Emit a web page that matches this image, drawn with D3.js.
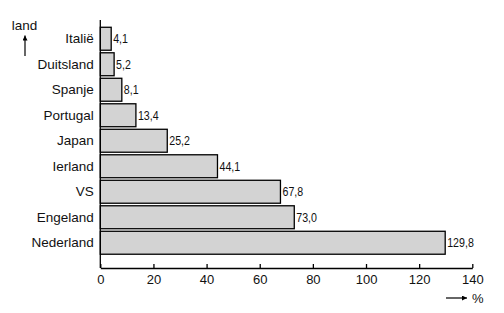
<!DOCTYPE html>
<html>
<head>
<meta charset="utf-8">
<script src="https://cdn.jsdelivr.net/npm/d3@7"></script>
<style>
  html, body { margin: 0; padding: 0; background: #fff; }
  svg { display: block; }
  text { font-family: Arial, "Liberation Sans", sans-serif; fill: #111; }
</style>
</head>
<body>
<svg id="chart" width="504" height="313"></svg>
<script>
const categories = ["Italië", "Duitsland", "Spanje", "Portugal", "Japan", "Ierland", "VS", "Engeland", "Nederland"];
const values = [4.1, 5.2, 8.1, 13.4, 25.2, 44.1, 67.8, 73.0, 129.8];
const valueLabels = ["4,1", "5,2", "8,1", "13,4", "25,2", "44,1", "67,8", "73,0", "129,8"];
const xTicks = [0, 20, 40, 60, 80, 100, 120, 140];
const yAxisTitle = "land";
const xAxisTitle = "%";

const svg = d3.select("#chart");
const x = d3.scaleLinear().domain([0, 140]).range([100.3, 472.3]);
const y = d3.scaleBand().domain(categories).range([26, 255.5]).paddingInner(0.1).paddingOuter(0.05);
const axisY = 268;

// bars
svg.append("g").selectAll("rect")
  .data(categories)
  .join("rect")
  .attr("x", x(0))
  .attr("y", d => y(d))
  .attr("width", (d, i) => x(values[i]) - x(0))
  .attr("height", y.bandwidth())
  .attr("fill", "#d3d3d3")
  .attr("stroke", "#000")
  .attr("stroke-width", 1.3);

// value labels (condensed look)
svg.append("g").selectAll("text")
  .data(categories)
  .join("text")
  .attr("transform", (d, i) => `translate(${x(values[i]) + 2},${y(d) + y.bandwidth() / 2}) scale(0.82,1)`)
  .attr("dy", "0.36em")
  .style("font-family", "Arial, 'Liberation Sans', sans-serif")
  .style("font-size", "13px")
  .text((d, i) => valueLabels[i]);

// category axis (labels only)
const gy = svg.append("g")
  .attr("transform", `translate(${x(0)},0)`)
  .call(d3.axisLeft(y).tickSize(0).tickPadding(6.5));
gy.select(".domain").remove();
gy.selectAll("text").style("font-size", "13.5px").style("font-family", "Arial, 'Liberation Sans', sans-serif").attr("fill", "#111");

// vertical axis line
svg.append("line")
  .attr("x1", x(0)).attr("x2", x(0))
  .attr("y1", 20).attr("y2", axisY)
  .attr("stroke", "#000").attr("stroke-width", 1.3);

// x axis
const gx = svg.append("g")
  .attr("transform", `translate(0,${axisY})`)
  .call(d3.axisBottom(x).tickValues(xTicks).tickFormat(d3.format("d")).tickSizeInner(-4).tickSizeOuter(0).tickPadding(7));
gx.select(".domain").attr("stroke", "#000").attr("stroke-width", 1.3);
gx.selectAll(".tick line").attr("stroke", "#000").attr("stroke-width", 1.3);
gx.selectAll("text").style("font-size", "13px").style("font-family", "Arial, 'Liberation Sans', sans-serif").attr("fill", "#111");

// arrow marker
svg.append("defs").append("marker")
  .attr("id", "arr")
  .attr("viewBox", "0 0 10 10")
  .attr("refX", 10).attr("refY", 5)
  .attr("markerWidth", 7).attr("markerHeight", 5)
  .attr("markerUnits", "userSpaceOnUse")
  .attr("orient", "auto")
  .append("path").attr("d", "M0,0 L10,5 L0,10 Z").attr("fill", "#000");

// y axis title with arrow
svg.append("text")
  .attr("x", 24.5).attr("y", 30)
  .attr("text-anchor", "middle")
  .style("font-size", "13.5px")
  .text(yAxisTitle);
svg.append("line")
  .attr("x1", 25).attr("x2", 25)
  .attr("y1", 56).attr("y2", 35.5)
  .attr("stroke", "#000").attr("stroke-width", 1.2)
  .attr("marker-end", "url(#arr)");

// x axis title with arrow
svg.append("line")
  .attr("x1", 446).attr("x2", 467)
  .attr("y1", 298).attr("y2", 298)
  .attr("stroke", "#000").attr("stroke-width", 1.2)
  .attr("marker-end", "url(#arr)");
svg.append("text")
  .attr("x", 472).attr("y", 303)
  .style("font-size", "13px")
  .text(xAxisTitle);
</script>
</body>
</html>
